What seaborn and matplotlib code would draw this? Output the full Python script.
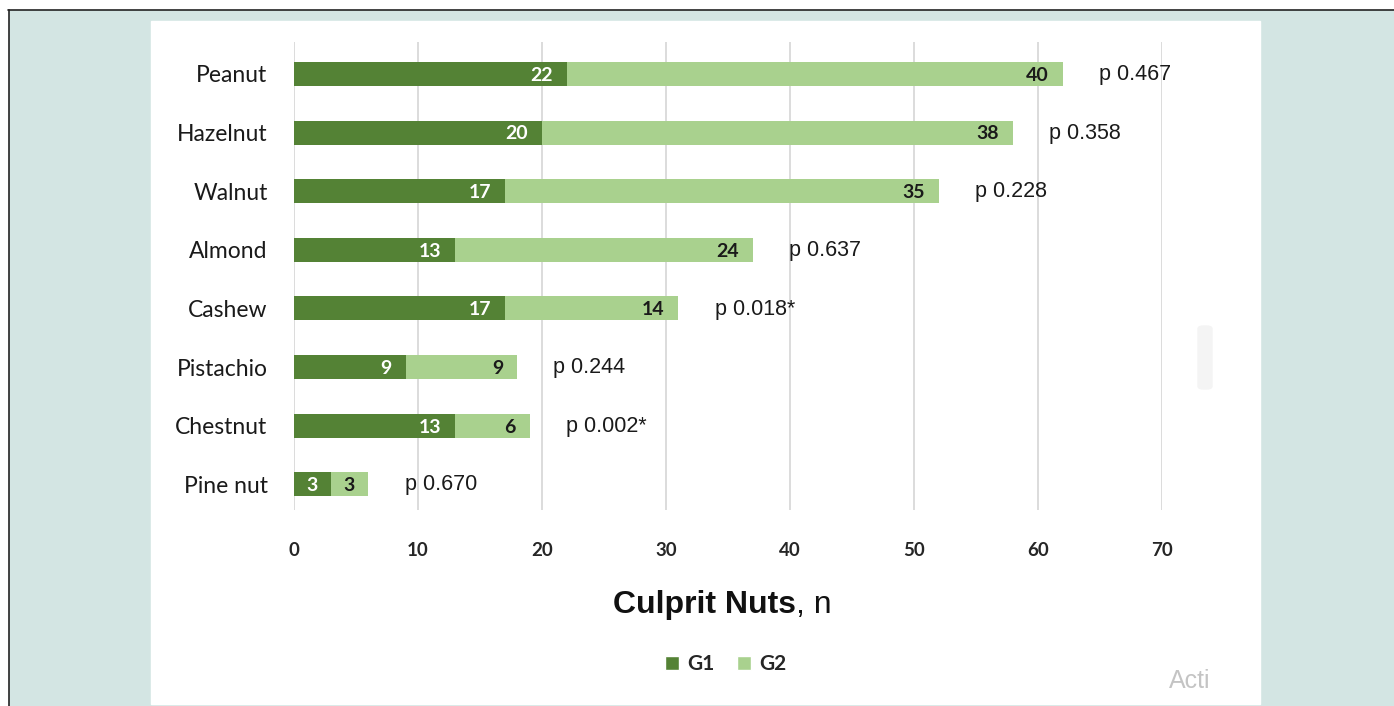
import matplotlib
matplotlib.use("Agg")
import matplotlib.pyplot as plt
from matplotlib.patches import Rectangle, FancyBboxPatch, Patch
from matplotlib.lines import Line2D
import seaborn as sns
import pandas as pd

# Data
nuts = ["Peanut", "Hazelnut", "Walnut", "Almond", "Cashew", "Pistachio", "Chestnut", "Pine nut"]
g1 = [22, 20, 17, 13, 17, 9, 13, 3]
g2 = [40, 38, 35, 24, 14, 9, 6, 3]
p_labels = ["p 0.467", "p 0.358", "p 0.228", "p 0.637", "p 0.018*", "p 0.244", "p 0.002*", "p 0.670"]
x_ticks = [0, 10, 20, 30, 40, 50, 60, 70]

DARK = "#548235"
LIGHT = "#a9d18e"
TEAL = "#d3e5e3"
LABEL_FONT = "Lato"
ARIAL = "Liberation Sans"

df = pd.DataFrame({"nut": nuts, "G1": g1, "G2": g2})
df["total"] = df["G1"] + df["G2"]

sns.set_theme(style="white")
W, H = 1394, 706
fig = plt.figure(figsize=(W / 100, H / 100), dpi=100, facecolor=TEAL)

def fx(px):
    return px / W

def fy(py):
    return 1 - py / H

# white outer margin, black frame line, white chart panel
fig.patches.append(Rectangle((0, fy(9)), 1, 1, transform=fig.transFigure, color="white", zorder=0))
fig.patches.append(Rectangle((0, 0), fx(8), 1, transform=fig.transFigure, color="white", zorder=0))
fig.add_artist(Line2D([fx(8), 1], [fy(9.5), fy(9.5)], transform=fig.transFigure, color="#222222", lw=1.2))
fig.add_artist(Line2D([fx(8.5), fx(8.5)], [0, fy(9.5)], transform=fig.transFigure, color="#222222", lw=1.2))
fig.patches.append(Rectangle((fx(151), fy(704)), fx(1260 - 151), fy(21) - fy(704),
                             transform=fig.transFigure, color="white", zorder=0))
fig.patches.append(FancyBboxPatch((fx(1198), fy(389)), fx(14), fy(326) - fy(389),
                                  boxstyle="round,pad=0,rounding_size=0.004",
                                  transform=fig.transFigure, color="#f4f4f4", zorder=1))

ax = fig.add_axes([fx(294), fy(510), fx(1162 - 294), fy(42) - fy(510)])
ax.set_zorder(3)
ax.set_facecolor("none")

sns.barplot(data=df, x="total", y="nut", color=LIGHT, width=0.41, ax=ax,
            saturation=1, linewidth=0, zorder=3)
sns.barplot(data=df, x="G1", y="nut", color=DARK, width=0.41, ax=ax,
            saturation=1, linewidth=0, zorder=3)

ax.set_xlim(0, 70)
ax.set_ylim(7.44, -0.546)
ax.set_xticks(x_ticks)
ax.set_xticklabels([str(t) for t in x_ticks], fontsize=13.5, fontfamily=LABEL_FONT,
                   fontweight="bold", color="#262626")
ax.tick_params(axis="x", pad=23, length=0)
ax.tick_params(axis="y", pad=19, length=0)
for lab in ax.get_yticklabels():
    lab.set_fontfamily(LABEL_FONT)
    lab.set_fontsize(16.5)
    lab.set_color("#1a1a1a")
ax.set_xlabel("")
ax.set_ylabel("")
ax.grid(axis="x", color="#d9d9d9", lw=1.3, zorder=0)
ax.grid(axis="y", visible=False)
ax.set_axisbelow(True)
for s in ax.spines.values():
    s.set_visible(False)

# segment values and p-values
for i, (a, b, p) in enumerate(zip(g1, g2, p_labels)):
    ax.annotate(str(a), (a, i), xytext=(-10, -1), textcoords="offset points",
                ha="right", va="center", color="white", fontsize=14,
                fontfamily=LABEL_FONT, fontweight="bold", zorder=5)
    ax.annotate(str(b), (a + b, i), xytext=(-10, -1), textcoords="offset points",
                ha="right", va="center", color="#1a1a1a", fontsize=14,
                fontfamily=LABEL_FONT, fontweight="bold", zorder=5)
    ax.annotate(p, (a + b, i), xytext=(26, -0.5), textcoords="offset points",
                ha="left", va="center", color="#1a1a1a", fontsize=15.5,
                fontfamily=ARIAL, annotation_clip=False, zorder=5)

# axis title with bold and plain parts
fig.text(fx(796), fy(605), "Culprit Nuts", ha="right", va="center", fontsize=23,
         fontweight="bold", fontfamily=ARIAL, color="#111111")
fig.text(fx(796), fy(605), ", n", ha="left", va="center", fontsize=23,
         fontfamily=ARIAL, color="#111111")

handles = [Patch(facecolor=DARK, label="G1"), Patch(facecolor=LIGHT, label="G2")]
fig.legend(handles=handles, loc="center", bbox_to_anchor=(fx(726), fy(664)), ncol=2,
           frameon=False, prop={"family": LABEL_FONT, "size": 15, "weight": "bold"},
           handlelength=0.65, handleheight=0.65, handletextpad=0.4, columnspacing=1.1)

fig.text(fx(1169), fy(681), "Acti", ha="left", va="center", fontsize=18,
         fontfamily=ARIAL, color="#c4c4c4")

fig.savefig("out.png", dpi=100, facecolor=TEAL)
